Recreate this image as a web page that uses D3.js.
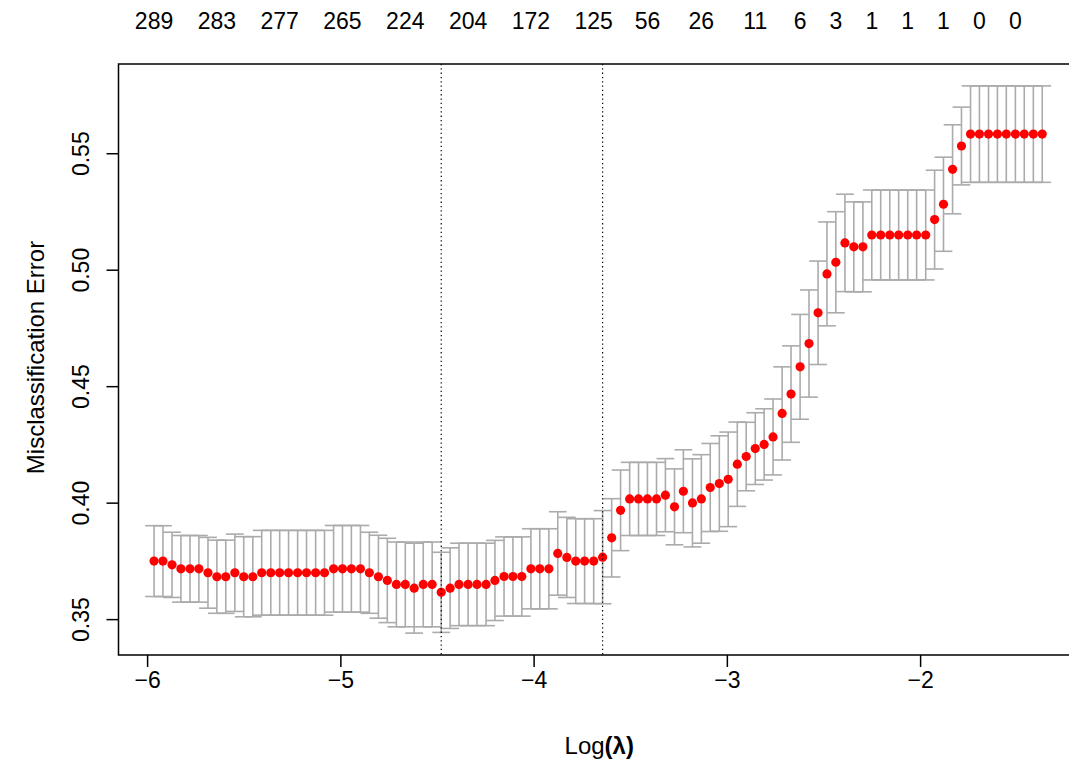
<!DOCTYPE html>
<html>
<head>
<meta charset="utf-8">
<script src="https://cdn.jsdelivr.net/npm/d3@7"></script>
<style>
  body { margin: 0; background: #fff; }
  svg { display: block; }
  text { font-family: "Liberation Sans", Arial, Helvetica, sans-serif; fill: #000; }
</style>
</head>
<body>
<script>

// log(lambda) path, 100 values
var logLambda = [
  -5.964, -5.918, -5.871, -5.825, -5.778, -5.732, -5.685, -5.639, -5.593, -5.546,
  -5.500, -5.453, -5.407, -5.360, -5.314, -5.268, -5.221, -5.175, -5.128, -5.082,
  -5.035, -4.989, -4.943, -4.896, -4.850, -4.803, -4.757, -4.710, -4.664, -4.618,
  -4.571, -4.525, -4.478, -4.432, -4.386, -4.339, -4.293, -4.246, -4.200, -4.153,
  -4.107, -4.061, -4.014, -3.968, -3.921, -3.875, -3.828, -3.782, -3.736, -3.689,
  -3.643, -3.596, -3.550, -3.503, -3.457, -3.411, -3.364, -3.318, -3.271, -3.225,
  -3.178, -3.132, -3.086, -3.039, -2.993, -2.946, -2.900, -2.853, -2.807, -2.761,
  -2.714, -2.668, -2.621, -2.575, -2.528, -2.482, -2.436, -2.389, -2.343, -2.296,
  -2.250, -2.204, -2.157, -2.111, -2.064, -2.018, -1.971, -1.925, -1.879, -1.832,
  -1.786, -1.739, -1.693, -1.646, -1.600, -1.554, -1.507, -1.461, -1.414, -1.368
];

// mean cross-validated misclassification error
var cvm = [
  0.3749, 0.3749, 0.3733, 0.3716, 0.3716, 0.3716, 0.3699, 0.3682, 0.3682, 0.3699,
  0.3682, 0.3682, 0.3699, 0.3699, 0.3699, 0.3699, 0.3699, 0.3699, 0.3699, 0.3699,
  0.3716, 0.3716, 0.3716, 0.3716, 0.3699, 0.3682, 0.3666, 0.3649, 0.3649, 0.3633,
  0.3649, 0.3649, 0.3615, 0.3633, 0.3649, 0.3649, 0.3649, 0.3649, 0.3666, 0.3683,
  0.3683, 0.3683, 0.3716, 0.3716, 0.3716, 0.3782, 0.3765, 0.3749, 0.3749, 0.3749,
  0.3766, 0.3849, 0.3967, 0.4016, 0.4016, 0.4016, 0.4016, 0.4032, 0.3982, 0.4049,
  0.3999, 0.4016, 0.4065, 0.4082, 0.4100, 0.4165, 0.4198, 0.4232, 0.4250, 0.4282,
  0.4383, 0.4466, 0.4583, 0.4683, 0.4815, 0.4982, 0.5032, 0.5115, 0.5098, 0.5098,
  0.5149, 0.5149, 0.5149, 0.5149, 0.5149, 0.5149, 0.5149, 0.5215, 0.5281, 0.5431,
  0.5531, 0.5582, 0.5582, 0.5582, 0.5582, 0.5582, 0.5582, 0.5582, 0.5582, 0.5582
];

// standard error of cvm
var cvsd = [
  0.0152, 0.0152, 0.0140, 0.0143, 0.0143, 0.0143, 0.0152, 0.0157, 0.0157, 0.0166,
  0.0172, 0.0172, 0.0182, 0.0182, 0.0182, 0.0182, 0.0182, 0.0182, 0.0182, 0.0182,
  0.0186, 0.0186, 0.0186, 0.0186, 0.0174, 0.0178, 0.0181, 0.0182, 0.0182, 0.0193,
  0.0182, 0.0182, 0.0172, 0.0173, 0.0177, 0.0177, 0.0177, 0.0177, 0.0172, 0.0170,
  0.0170, 0.0170, 0.0172, 0.0172, 0.0172, 0.0179, 0.0172, 0.0182, 0.0182, 0.0182,
  0.0200, 0.0168, 0.0173, 0.0157, 0.0157, 0.0157, 0.0157, 0.0157, 0.0163, 0.0178,
  0.0189, 0.0190, 0.0189, 0.0205, 0.0203, 0.0181, 0.0147, 0.0154, 0.0153, 0.0163,
  0.0200, 0.0207, 0.0225, 0.0230, 0.0222, 0.0223, 0.0217, 0.0209, 0.0193, 0.0193,
  0.0193, 0.0193, 0.0193, 0.0193, 0.0193, 0.0193, 0.0193, 0.0212, 0.0202, 0.0191,
  0.0167, 0.0207, 0.0207, 0.0207, 0.0207, 0.0207, 0.0207, 0.0207, 0.0207, 0.0207
];

// number of nonzero coefficients shown on top (index into logLambda, label)
var nzIndex = [0, 7, 14, 21, 28, 35, 42, 49, 55, 61, 67, 72, 76, 80, 84, 88, 92, 96];
var nzLabels = ["289", "283", "277", "265", "224", "204", "172", "125", "56", "26",
                "11", "6", "3", "1", "1", "1", "0", "0"];

var lambdaMin = -4.478, lambda1se = -3.643;

var xTicks = [-6, -5, -4, -3, -2];
var yTicks = [0.35, 0.40, 0.45, 0.50, 0.55];

var W = 1069, H = 765,
    pLeft = 118.5, pRight = 1077.8, pTop = 64, pBottom = 655,
    fs = 23, fsTitle = 24;

var svg = d3.select("body").append("svg")
    .attr("width", W)
    .attr("height", H);

var x = d3.scaleLinear().domain([-6.148, -1.184]).range([pLeft, pRight]);
var y = d3.scaleLinear().domain([0.3346, 0.5883]).range([pBottom, pTop]);

var barw = (d3.max(logLambda) - d3.min(logLambda)) * 0.01;

var pts = logLambda.map(function(l, i) {
  return {l: l, m: cvm[i], up: cvm[i] + cvsd[i], lo: cvm[i] - cvsd[i]};
});

// error bars
var bars = svg.append("g")
    .attr("stroke", "#ababab")
    .attr("stroke-width", 1.6)
    .attr("fill", "none");

bars.selectAll("line.v").data(pts).enter().append("line")
    .attr("x1", function(d) { return x(d.l); })
    .attr("x2", function(d) { return x(d.l); })
    .attr("y1", function(d) { return y(d.up); })
    .attr("y2", function(d) { return y(d.lo); });

bars.selectAll("line.u").data(pts).enter().append("line")
    .attr("x1", function(d) { return x(d.l - barw); })
    .attr("x2", function(d) { return x(d.l + barw); })
    .attr("y1", function(d) { return y(d.up); })
    .attr("y2", function(d) { return y(d.up); });

bars.selectAll("line.l").data(pts).enter().append("line")
    .attr("x1", function(d) { return x(d.l - barw); })
    .attr("x2", function(d) { return x(d.l + barw); })
    .attr("y1", function(d) { return y(d.lo); })
    .attr("y2", function(d) { return y(d.lo); });

// points
svg.append("g").selectAll("circle").data(pts).enter().append("circle")
    .attr("cx", function(d) { return x(d.l); })
    .attr("cy", function(d) { return y(d.m); })
    .attr("r", 4.6)
    .attr("fill", "#ff0000");

// dotted lines at lambda.min and lambda.1se
svg.append("g").selectAll("line").data([lambdaMin, lambda1se]).enter().append("line")
    .attr("x1", function(d) { return x(d); })
    .attr("x2", function(d) { return x(d); })
    .attr("y1", pTop)
    .attr("y2", pBottom)
    .attr("stroke", "#000")
    .attr("stroke-width", 1.2)
    .attr("stroke-dasharray", "1.3,3");

// box
svg.append("rect")
    .attr("x", pLeft).attr("y", pTop)
    .attr("width", pRight - pLeft).attr("height", pBottom - pTop)
    .attr("fill", "none")
    .attr("stroke", "#000")
    .attr("stroke-width", 1.5);

// x axis
var xAxis = svg.append("g")
    .attr("transform", "translate(0," + pBottom + ")")
    .call(d3.axisBottom(x).tickValues(xTicks).tickSize(12).tickPadding(5)
      .tickFormat(d3.format("d")));
xAxis.select(".domain").remove();
xAxis.selectAll(".tick line").attr("stroke", "#000").attr("stroke-width", 1.5);
xAxis.selectAll("text").attr("font-size", fs)
    .style("font-family", "'Liberation Sans', Arial, sans-serif");

// y axis, labels parallel to axis
var yAxis = svg.append("g")
    .attr("transform", "translate(" + pLeft + ",0)")
    .call(d3.axisLeft(y).tickValues(yTicks).tickSize(12).tickFormat(d3.format(".2f")));
yAxis.select(".domain").remove();
yAxis.selectAll(".tick line").attr("stroke", "#000").attr("stroke-width", 1.5);
yAxis.selectAll("text")
    .attr("font-size", fs)
    .style("font-family", "'Liberation Sans', Arial, sans-serif")
    .attr("x", null).attr("dy", null)
    .attr("text-anchor", "middle")
    .attr("dominant-baseline", "central")
    .attr("transform", "translate(-38,0) rotate(-90)");

// top axis: number of nonzero coefficients
svg.append("g").selectAll("text").data(nzIndex).enter().append("text")
    .attr("x", function(d) { return x(logLambda[d]); })
    .attr("y", 21)
    .attr("text-anchor", "middle")
    .attr("dominant-baseline", "central")
    .attr("font-size", fs)
    .text(function(d, i) { return nzLabels[i]; });

// axis titles
var xt = svg.append("text")
    .attr("x", (pLeft + 1068) / 2 + 6)
    .attr("y", 745)
    .attr("text-anchor", "middle")
    .attr("dominant-baseline", "central")
    .attr("font-size", fsTitle);
xt.append("tspan").text("Log");
xt.append("tspan").attr("font-weight", "bold").text("(λ)");

svg.append("text")
    .attr("transform", "translate(35," + ((pTop + pBottom) / 2 - 2) + ") rotate(-90)")
    .attr("text-anchor", "middle")
    .attr("dominant-baseline", "central")
    .attr("font-size", fsTitle)
    .text("Misclassification Error");

</script>
</body>
</html>
